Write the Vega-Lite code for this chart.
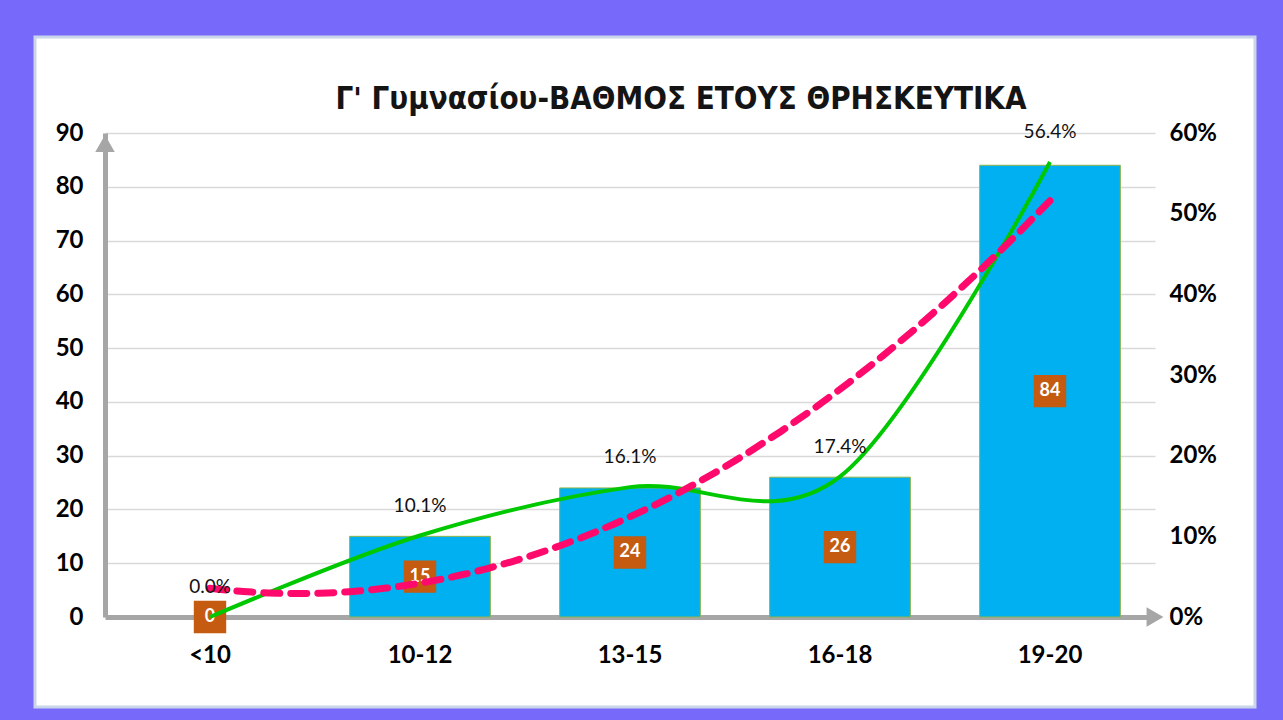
{
  "$schema": "https://vega.github.io/schema/vega-lite/v6.json",
  "width": 1220,
  "height": 670,
  "autosize": {"type": "none"},
  "padding": {"left": 35, "top": 37, "right": 28, "bottom": 13},
  "background": "#7769FA",
  "config": {
    "view": {"fill": "white", "stroke": "#C9D6EA", "strokeWidth": 3},
    "font": "Lato"
  },
  "title": {
    "text": "Γ' Γυμνασίου-ΒΑΘΜΟΣ ΕΤΟΥΣ ΘΡΗΣΚΕΥΤΙΚΑ",
    "font": "DejaVu Sans Condensed, Roboto, sans-serif",
    "fontSize": 31,
    "fontWeight": "bold",
    "color": "#141414",
    "anchor": "middle",
    "baseline": "alphabetic",
    "offset": -103,
    "dx": 36
  },
  "data": {
    "values": [
      {"grade": "<10", "idx": 1, "count": 0, "pct": 0.0},
      {"grade": "10-12", "idx": 2, "count": 15, "pct": 0.101},
      {"grade": "13-15", "idx": 3, "count": 24, "pct": 0.161},
      {"grade": "16-18", "idx": 4, "count": 26, "pct": 0.174},
      {"grade": "19-20", "idx": 5, "count": 84, "pct": 0.564}
    ]
  },
  "layer": [
    {
      "encoding": {
        "x": {
          "field": "grade",
          "type": "nominal",
          "sort": null,
          "scale": {"range": [70, 1120], "paddingInner": 0.33, "paddingOuter": 0.165},
          "axis": {
            "title": null,
            "offset": -90,
            "orient": "bottom",
            "domainColor": "#A6A6A6",
            "domainWidth": 5,
            "ticks": false,
            "labelAngle": 0,
            "labelPadding": 26,
            "labelFontSize": 24,
            "labelFontWeight": "bold",
            "labelColor": "black"
          }
        }
      },
      "layer": [
        {
          "mark": {"type": "bar", "fill": "#00B0F0", "stroke": "#8DB44A", "strokeWidth": 1},
          "encoding": {
            "y": {
              "field": "count",
              "type": "quantitative",
              "scale": {"domain": [0, 90], "range": [580, 96], "nice": false, "zero": true},
              "axis": {
                "title": null,
                "orient": "left",
                "offset": -70,
                "values": [0, 10, 20, 30, 40, 50, 60, 70, 80, 90],
                "domainColor": "#A6A6A6",
                "domainWidth": 5,
                "ticks": false,
                "labelPadding": 22,
                "labelFontSize": 24,
                "labelFontWeight": "bold",
                "labelColor": "black",
                "grid": true,
                "gridColor": "#D9D9D9",
                "gridWidth": 1.5
              }
            },
            "strokeOpacity": {"condition": {"test": "datum.count > 0", "value": 1}, "value": 0}
          }
        },
        {
          "mark": {"type": "point", "shape": "square", "filled": true, "fill": "#C55A11", "opacity": 1, "size": 1050},
          "encoding": {
            "y": {"field": "count", "type": "quantitative", "scale": {"domain": [0, 180], "range": [580, 96], "nice": false}, "axis": null}
          }
        },
        {
          "mark": {"type": "text", "color": "white", "fontSize": 18, "fontWeight": "bold", "baseline": "middle"},
          "encoding": {
            "y": {"field": "count", "type": "quantitative", "scale": {"domain": [0, 180], "range": [580, 96], "nice": false}, "axis": null},
            "text": {"field": "count", "type": "quantitative"}
          }
        }
      ],
      "resolve": {"scale": {"y": "independent"}}
    },
    {
      "encoding": {
        "x": {
          "field": "idx",
          "type": "quantitative",
          "scale": {"domain": [0.5, 5.5], "range": [70, 1120], "nice": false, "zero": false},
          "axis": null
        },
        "y": {
          "field": "pct",
          "type": "quantitative",
          "scale": {"domain": [0, 0.6], "range": [580, 96], "nice": false},
          "axis": {
            "title": null,
            "orient": "right",
            "offset": -100,
            "format": ".0%",
            "values": [0, 0.1, 0.2, 0.3, 0.4, 0.5, 0.6],
            "domain": false,
            "ticks": false,
            "grid": false,
            "labelPadding": 14,
            "labelFontSize": 24,
            "labelFontWeight": "bold",
            "labelColor": "black"
          }
        }
      },
      "layer": [
        {
          "mark": {"type": "line", "color": "#00C800", "strokeWidth": 4, "interpolate": "cardinal", "tension": 0}
        },
        {
          "transform": [{"regression": "pct", "on": "idx", "method": "poly", "order": 2}],
          "mark": {"type": "line", "color": "#FF0A6C", "strokeWidth": 7, "strokeDash": [16, 11], "strokeCap": "round"}
        },
        {
          "mark": {"type": "text", "fontSize": 19, "color": "#111111", "dy": -30},
          "encoding": {"text": {"field": "pct", "type": "quantitative", "format": ".1%"}}
        },
        {
          "data": {"values": [{"ax": 0.5, "ay": 0.587}]},
          "mark": {"type": "point", "shape": "triangle-up", "filled": true, "fill": "#A6A6A6", "opacity": 1, "size": 380},
          "encoding": {
            "x": {"field": "ax", "type": "quantitative"},
            "y": {"field": "ay", "type": "quantitative"}
          }
        },
        {
          "data": {"values": [{"ax": 5.5, "ay": 0}]},
          "mark": {"type": "point", "shape": "triangle-right", "filled": true, "fill": "#A6A6A6", "opacity": 1, "size": 380},
          "encoding": {
            "x": {"field": "ax", "type": "quantitative"},
            "y": {"field": "ay", "type": "quantitative"}
          }
        }
      ]
    }
  ],
  "resolve": {"scale": {"x": "independent", "y": "independent"}}
}
